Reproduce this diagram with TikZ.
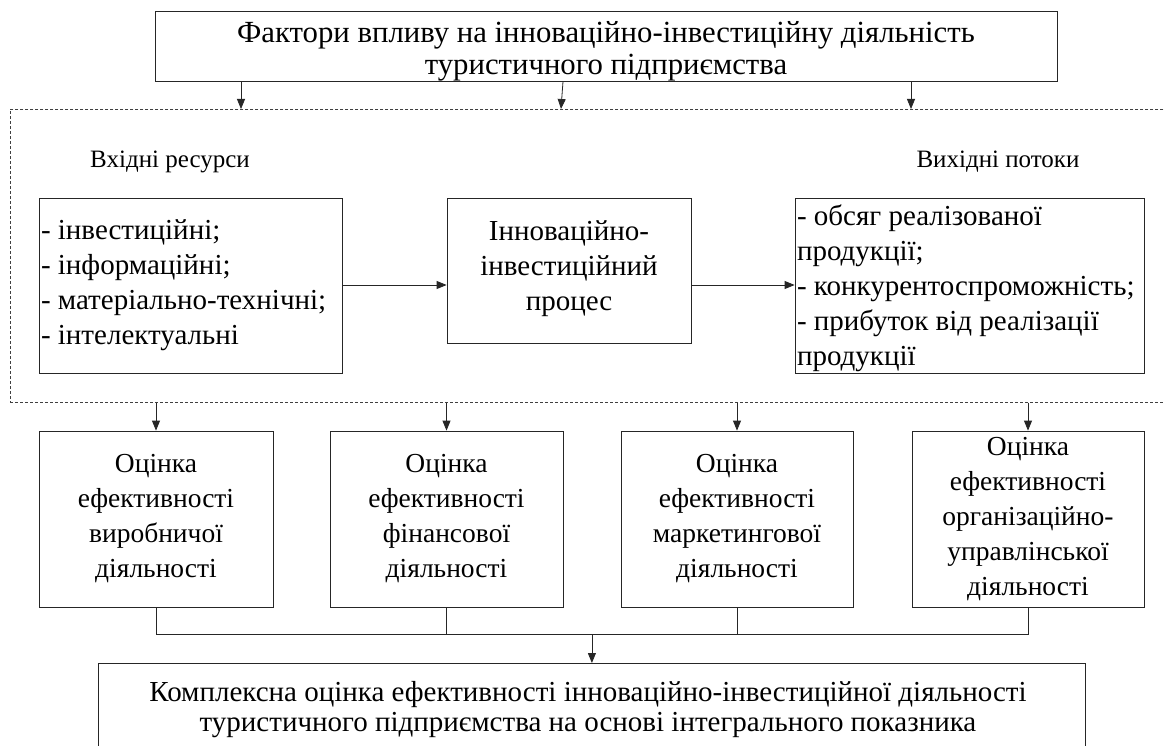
\documentclass[tikz,border=0pt]{standalone}
\usepackage{fontspec}
\setmainfont{Liberation Serif}
\usetikzlibrary{arrows.meta}
\begin{document}
\begin{tikzpicture}[x=1pt,y=-1pt,
  box/.style={draw=black!85, line width=0.8pt, inner sep=0pt, align=center},
  fbig/.style={font=\fontsize{29}{35}\selectfont},
  fasm/.style={font=\fontsize{27.5}{35}\selectfont},
  arr/.style={draw=black!85, line width=0.8pt, -{Triangle[length=10pt,width=8pt]}},
  ln/.style={draw=black!85, line width=0.8pt},
  lab/.style={font=\fontsize{25}{28}\selectfont, inner sep=0pt},
  dashbox/.style={draw=black!75, line width=0.6pt, dash pattern=on 3pt off 2pt, inner sep=0pt}]
\useasboundingbox (0,0) rectangle (1165,746);
\fill[white] (0,0) rectangle (1165,746);

\node[box, font=\fontsize{30.75}{32}\selectfont, minimum width=902pt, minimum height=70pt,
      text width=900pt, align=flush center, text height=0pt, text depth=6pt] (top) at (606,46)
  {Фактори впливу на інноваційно-інвестиційну діяльність\\туристичного підприємства};
\node[dashbox, minimum width=1175pt, minimum height=293pt, anchor=north west] (proc) at (10,109) {};

\coordinate (t1) at (241,0);
\coordinate (t2) at (561,0);
\coordinate (t3) at (911,0);
\draw[arr] (top.south -| t1) -- (proc.north -| t1);
\draw[arr] ([xshift=2pt]top.south -| t2) -- (proc.north -| t2);
\draw[arr] (top.south -| t3) -- (proc.north -| t3);

\node[lab] (inlab) at (170,162) {Вхідні ресурси};
\node[lab] (outlab) at (998,162) {Вихідні потоки};

\node[box, fbig, minimum width=303pt, minimum height=175pt, text width=299pt, align=flush left,
      text height=0pt, text depth=91pt] (inp) at (190.5,285.5)
  {- інвестиційні;\\- інформаційні;\\- матеріально-технічні;\\- інтелектуальні};
\node[box, fbig, minimum width=244pt, minimum height=145pt, text width=242pt, align=flush center,
      text height=0pt, text depth=59pt] (mid) at (569,270.5)
  {Інноваційно-\\інвестиційний\\процес};
\node[box, fbig, minimum width=349pt, minimum height=175pt, text width=345pt, align=flush left,
      text height=0pt, text depth=119pt] (out) at (969.5,285.5)
  {- обсяг реалізованої\\продукції;\\- конкурентоспроможність;\\- прибуток від реалізації\\продукції};

\coordinate (mrow) at (0,285);
\draw[arr] (inp.east |- mrow) -- (mid.west |- mrow);
\draw[arr] (mid.east |- mrow) -- (out.west |- mrow);

\node[box, fasm, minimum width=234pt, minimum height=176pt] (a1) at (156,519)
  {Оцінка\\ефективності\\виробничої\\діяльності};
\node[box, fasm, minimum width=233pt, minimum height=176pt] (a2) at (446.5,519)
  {Оцінка\\ефективності\\фінансової\\діяльності};
\node[box, fasm, minimum width=232pt, minimum height=176pt] (a3) at (737,519)
  {Оцінка\\ефективності\\маркетингової\\діяльності};
\node[box, fasm, minimum width=232pt, minimum height=176pt] (a4) at (1028,519)
  {Оцінка\\ефективності\\організаційно-\\управлінської\\діяльності};

\foreach \n in {a1,a2,a3,a4}
  \draw[arr] (proc.south -| \n.north) -- (\n.north);

\coordinate (bus) at (0,634);
\draw[ln] (a1.south) -- (a1.south |- bus) -- (a4.south |- bus) -- (a4.south);
\draw[ln] (a2.south) -- (a2.south |- bus);
\draw[ln] (a3.south) -- (a3.south |- bus);

\node[box, minimum width=987pt, minimum height=130pt, anchor=north west] (res) at (98,663) {};
\node[box, draw=none, font=\fontsize{29}{30}\selectfont] (restext) at (588,710)
  {Комплексна оцінка ефективності інноваційно-інвестиційної діяльності\\туристичного підприємства на основі інтегрального показника};
\draw[arr] (res.north |- bus) -- (res.north);
\end{tikzpicture}
\end{document}
